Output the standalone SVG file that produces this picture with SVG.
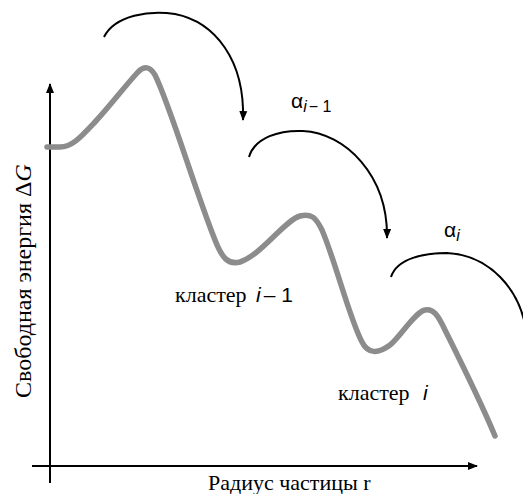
<svg xmlns="http://www.w3.org/2000/svg" width="523" height="494" viewBox="0 0 523 494">
<style>
.axis{stroke:#000;stroke-width:2;fill:none}
.jump{stroke:#000;stroke-width:2;fill:none}
.curve{stroke:#8c8c8c;stroke-width:5.5;fill:none;stroke-linecap:round;stroke-linejoin:round}
.sf{font-family:"Liberation Serif","DejaVu Serif",serif}
.ss{font-family:"Liberation Sans","DejaVu Sans",sans-serif}
</style>
<defs>
<marker id="ah" viewBox="0 0 10 10" refX="9" refY="5" markerWidth="10" markerHeight="10" markerUnits="userSpaceOnUse" orient="auto">
<path d="M0,1 L10,5 L0,9 Z" fill="#000"/>
</marker>
</defs>
<g id="axes">
<line class="axis" x1="50" y1="483" x2="50" y2="84" marker-end="url(#ah)"/>
<line class="axis" x1="32" y1="466" x2="477" y2="466" marker-end="url(#ah)"/>
</g>
<g id="energy-curve">
<path class="curve" d="M47,147 H60 C72,147 80,138 95,122 C110,106 125,86 138,72 C144,66 150,66 155,75 C170,105 195,190 215,240 C222,258 228,265 240,262 C260,256 285,220 300,216 C312,213 316,218 322,230 C335,260 350,320 362,342 C368,354 378,354 390,345 C400,337 415,312 425,310 C433,308 438,315 445,330 C460,360 480,400 495,436"/>
</g>
<g id="connectors">
<path class="jump" d="M104,37 C115,15 150,10 175,14 C215,22 245,60 243,120" marker-end="url(#ah)"/>
<path class="jump" d="M249,157 C255,137 280,130 303,131 C345,133 388,175 387,238" marker-end="url(#ah)"/>
<path class="jump" d="M391,277 C397,258 425,253 447,253 C490,255 520,290 526,330"/>
</g>
<g id="label-alpha-i-1">
<text class="ss" x="291" y="108" font-size="21">α<tspan font-size="16" font-style="italic" dy="4">i</tspan><tspan font-size="16" dx="2">− 1</tspan></text>
</g>
<g id="label-alpha-i">
<text class="ss" x="444" y="237" font-size="21">α<tspan font-size="16" font-style="italic" dy="4">i</tspan></text>
</g>
<g id="label-cluster-i-1">
<text class="sf" x="175" y="302" font-size="22">кластер</text>
<text class="ss" x="256" y="302" font-size="21"><tspan font-style="italic">i</tspan><tspan dx="3">– 1</tspan></text>
</g>
<g id="label-cluster-i">
<text class="sf" x="338" y="400" font-size="22">кластер</text>
<text class="ss" x="423" y="400" font-size="21" font-style="italic">i</text>
</g>
<g id="y-label">
<text class="sf" font-size="24" transform="translate(31,398) rotate(-90)">Свободная энергия Δ<tspan font-style="italic">G</tspan></text>
</g>
<g id="x-label">
<text class="sf" x="208" y="490" font-size="22">Радиус частицы r</text>
</g>
</svg>
